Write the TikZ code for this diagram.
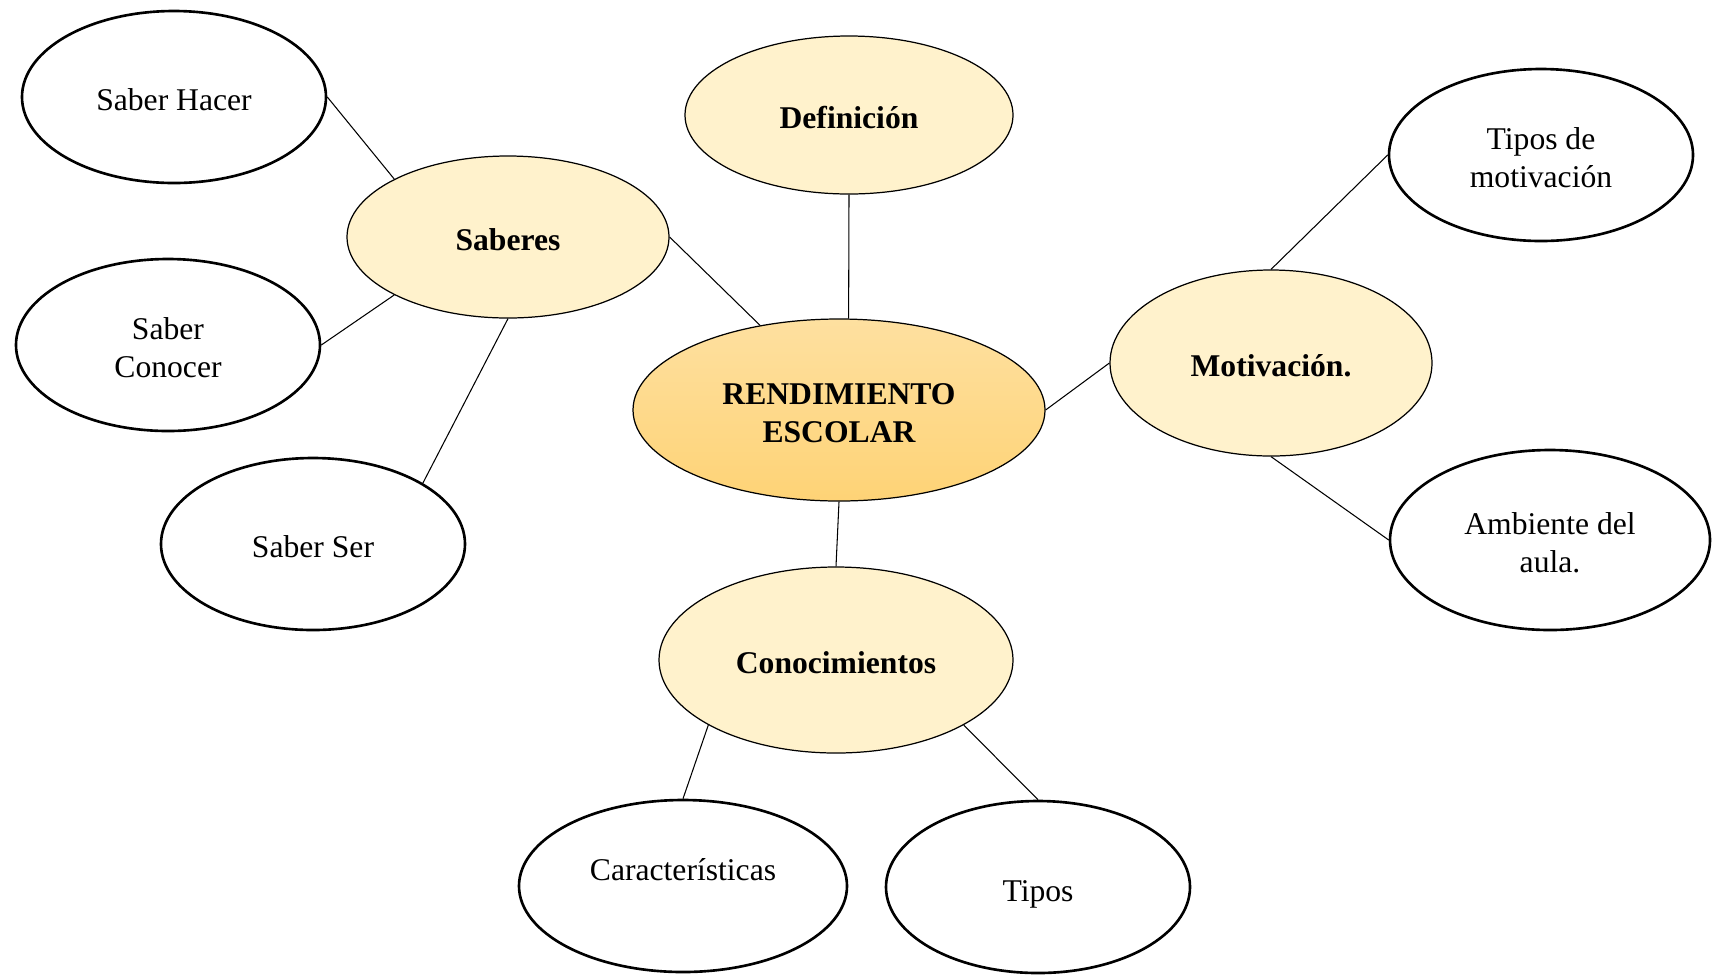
\documentclass[tikz,border=0pt]{standalone}
\usepackage{fontspec}
\setmainfont{Liberation Serif}
\usetikzlibrary{shapes.geometric}
\definecolor{cream}{RGB}{255,242,204}
\definecolor{goldtop}{RGB}{254,224,160}
\definecolor{goldbot}{RGB}{254,211,118}
\begin{document}
\begin{tikzpicture}[
  main/.style={ellipse, draw, line width=0.7pt, top color=goldtop, bottom color=goldbot, align=center, text height=16pt, font=\fontsize{18}{21.6}\selectfont\bfseries, minimum width=8.24cm, minimum height=3.64cm},
  topic/.style={ellipse, draw, line width=0.7pt, fill=cream, align=center, text height=16pt, font=\fontsize{18}{21.6}\selectfont\bfseries},
  leaf/.style={ellipse, draw, line width=1.5pt, fill=white, align=center, text height=16pt, font=\fontsize{18}{21.6}\selectfont, minimum width=6.08cm, minimum height=3.44cm},
  twoline/.style={text height=37.6pt},
  link/.style={line width=0.6pt}]

  \useasboundingbox (0,0) rectangle (34.24,-19.5);

  % Centre
  \node[main, twoline] (R) at (16.78,-8.20) {RENDIMIENTO\\ESCOLAR};

  % Topics
  \node[topic, minimum width=6.56cm, minimum height=3.16cm] (D) at (16.98,-2.30) {Definición};
  \node[topic, minimum width=6.44cm, minimum height=3.24cm] (S) at (10.16,-4.74) {Saberes};
  \node[topic, minimum width=6.44cm, minimum height=3.72cm] (M) at (25.42,-7.26) {Motivación.};
  \node[topic, minimum width=7.08cm, minimum height=3.72cm] (C) at (16.72,-13.20) {Conocimientos};

  % Leaves
  \node[leaf] (S1) at (3.48,-1.94) {Saber Hacer};
  \node[leaf, twoline] (S2) at (3.36,-6.90) {Saber\\Conocer};
  \node[leaf] (S3) at (6.26,-10.88) {Saber Ser};
  \node[leaf, twoline] (M1) at (30.82,-3.10) {Tipos de\\motivación};
  \node[leaf, twoline, minimum width=6.40cm, minimum height=3.60cm] (M2) at (31.00,-10.80) {Ambiente del\\aula.};
  \node[leaf, minimum width=6.56cm, text depth=0.79cm] (C1) at (13.66,-17.72) {Características};
  \node[leaf, text depth=0pt] (C2) at (20.76,-17.74) {Tipos};

  % Links to centre
  \draw[link] (S.east) -- (R.133);
  \draw[link] (D.south) -- (R.84);
  \draw[link] (R.east) -- (M.west);
  \draw[link] (R.south) -- (C.north);

  % Links to leaves
  \draw[link] (S1.east) -- (S.153);
  \draw[link] (S2.east) -- (S.207);
  \draw[link] (S3.29) -- (S.south);
  \draw[link] (M.north) -- (M1.west);
  \draw[link] (M.south) -- (M2.west);
  \draw[link] (C.207) -- (C1.north);
  \draw[link] (C.333) -- (C2.north);

\end{tikzpicture}
\end{document}
